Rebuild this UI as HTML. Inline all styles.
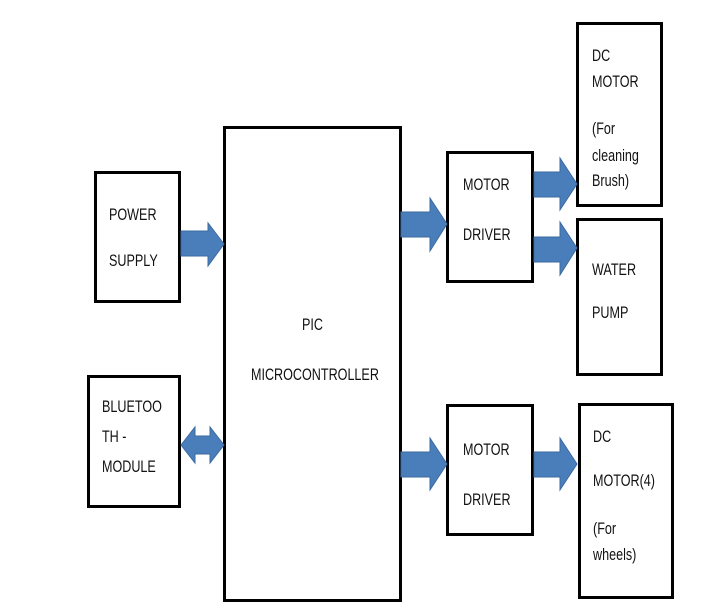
<!DOCTYPE html>
<html><head><style>
body{margin:0;width:724px;height:615px;background:#fff;position:relative;overflow:hidden;font-family:"Liberation Sans Narrow","Liberation Sans",sans-serif;}
.b{position:absolute;border:3px solid #000;box-sizing:border-box;background:#fff;}
.t{position:absolute;font-size:17px;color:#111;transform:scaleX(0.74);transform-origin:left top;white-space:nowrap;}
svg{position:absolute;left:0;top:0}
</style></head><body>
<div class="b" style="left:94px;top:171px;width:87px;height:132px"></div>
<div class="b" style="left:87px;top:375px;width:94px;height:133px"></div>
<div class="b" style="left:223px;top:126px;width:179px;height:476px"></div>
<div class="b" style="left:446px;top:151px;width:88px;height:132px"></div>
<div class="b" style="left:576px;top:22px;width:87px;height:185px"></div>
<div class="b" style="left:576px;top:218px;width:87px;height:158px"></div>
<div class="b" style="left:446px;top:404px;width:88px;height:132px"></div>
<div class="b" style="left:578px;top:403px;width:96px;height:196px"></div>
<svg width="724" height="615">
<g fill="#4a7ebb" stroke="#3a6aa0" stroke-width="1">
<polygon points="181,231 208,231 208,223 224,244 208,266 208,256 181,256"/>
<polygon points="181,445 195,427 195,436 210,436 210,427 224,445 210,463 210,454 195,454 195,463"/>
<polygon points="401,212 430,212 430,198 447,224 430,251 430,237 401,237"/>
<polygon points="534,172 560,172 560,158 577,184 560,210 560,197 534,197"/>
<polygon points="534,237 560,237 560,222 577,248 560,275 560,262 534,262"/>
<polygon points="401,452 430,452 430,438 447,464 430,490 430,477 401,477"/>
<polygon points="534,452 560,452 560,438 577,464 560,490 560,477 534,477"/>
</g></svg>
<div class="t" style="left:109px;top:205px">POWER</div>
<div class="t" style="left:109px;top:251px">SUPPLY</div>
<div class="t" style="left:102px;top:397px">BLUETOO</div>
<div class="t" style="left:102px;top:427px">TH -</div>
<div class="t" style="left:102px;top:457px">MODULE</div>
<div class="t" style="left:302px;top:315px">PIC</div>
<div class="t" style="left:251px;top:365px">MICROCONTROLLER</div>
<div class="t" style="left:463px;top:175px">MOTOR</div>
<div class="t" style="left:463px;top:225px">DRIVER</div>
<div class="t" style="left:463px;top:440px">MOTOR</div>
<div class="t" style="left:463px;top:490px">DRIVER</div>
<div class="t" style="left:592px;top:46px">DC</div>
<div class="t" style="left:592px;top:72px">MOTOR</div>
<div class="t" style="left:592px;top:119px">(For</div>
<div class="t" style="left:592px;top:146px">cleaning</div>
<div class="t" style="left:592px;top:171px">Brush)</div>
<div class="t" style="left:592px;top:260px">WATER</div>
<div class="t" style="left:592px;top:303px">PUMP</div>
<div class="t" style="left:593px;top:427px">DC</div>
<div class="t" style="left:593px;top:471px">MOTOR(4)</div>
<div class="t" style="left:593px;top:519px">(For</div>
<div class="t" style="left:593px;top:545px">wheels)</div>
</body></html>
